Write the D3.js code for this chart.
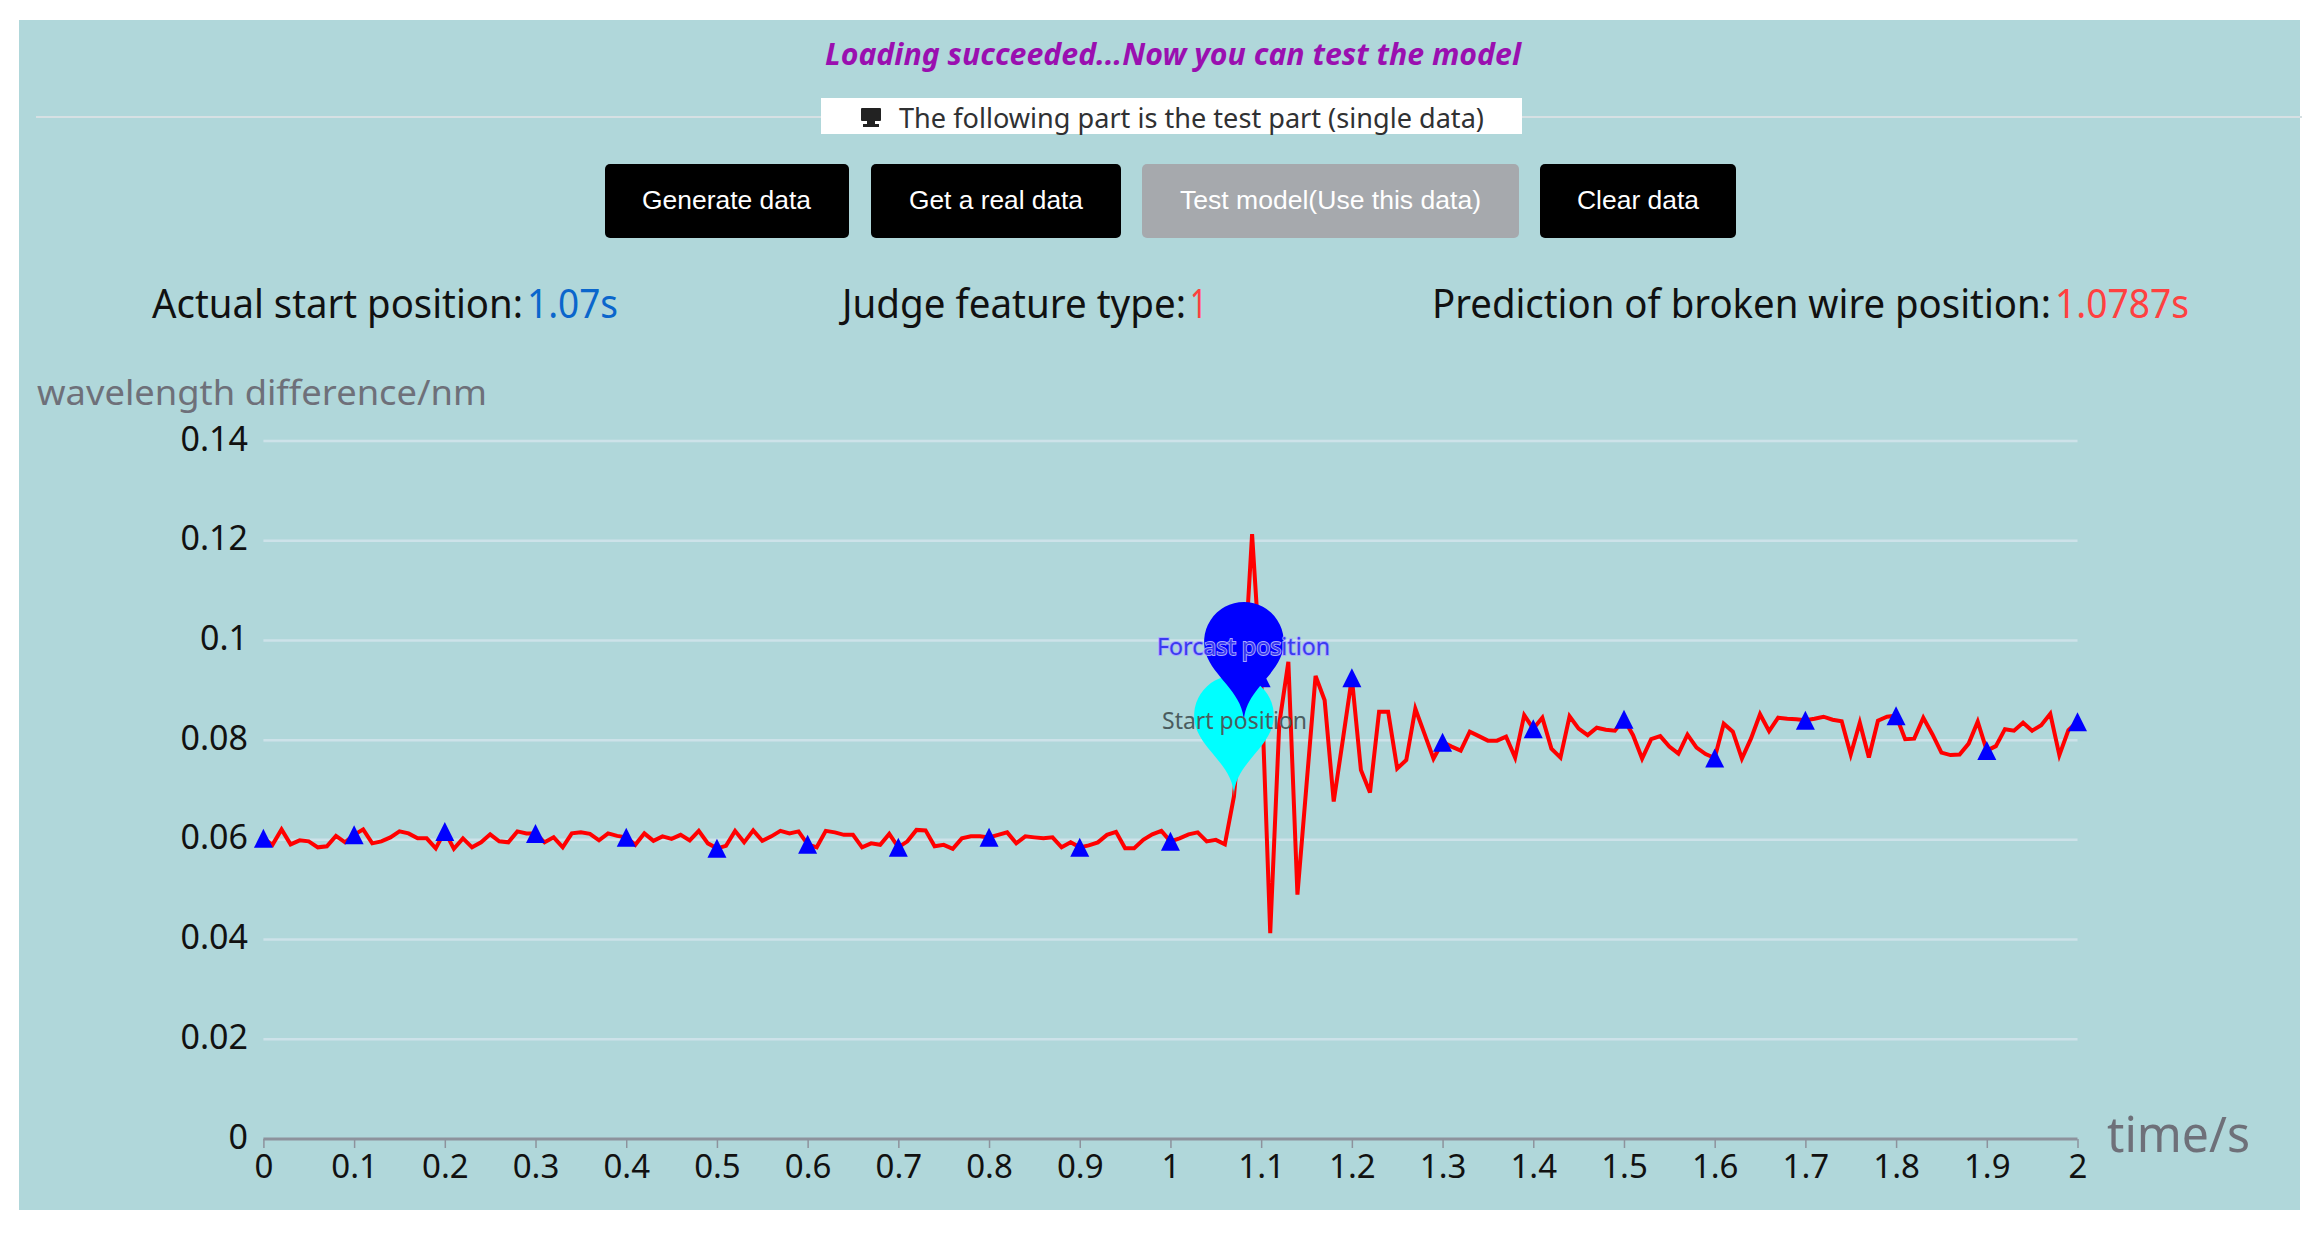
<!DOCTYPE html>
<html>
<head>
<meta charset="utf-8">
<script src="https://cdn.jsdelivr.net/npm/d3@7"></script>
<style>
html,body{margin:0;padding:0;background:#fff;overflow:hidden}
svg{display:block}
text{font-family:"Noto Sans",sans-serif}
.btn text{font-family:"Liberation Sans",Arial,sans-serif}
</style>
</head>
<body>
<svg id="chart" width="2319" height="1233"></svg>
<script>
const wavelength = [
.0603,.059,.0621,.0591,.0599,.0597,.0585,.0587,.0608,.0595,
.061,.0621,.0593,.0597,.0605,.0617,.0613,.0603,.0603,.0583,
.0617,.0582,.0603,.0585,.0595,.0611,.0597,.0595,.0617,.0613,
.0613,.0595,.0605,.0585,.0613,.0615,.0612,.0599,.0613,.0608,
.0605,.059,.0613,.0598,.0607,.0602,.061,.0599,.0618,.0593,
.0583,.0588,.0618,.0595,.0619,.0598,.0607,.0618,.0613,.0617,
.0591,.0585,.0618,.0615,.061,.061,.0585,.0593,.059,.0612,
.0585,.0597,.062,.0619,.0587,.059,.0582,.0603,.0607,.0607,
.0605,.061,.0615,.0593,.0607,.0605,.0603,.0605,.0585,.0595,
.0585,.0589,.0595,.061,.0616,.0583,.0583,.06,.0611,.0618,
.0597,.0603,.0611,.0615,.0597,.06,.0591,.0687,.09,.1213,
.0925,.0413,.0833,.0957,.049,.071,.0929,.088,.0677,.08,
.0925,.074,.0695,.0857,.0857,.0743,.076,.0863,.0813,.0763,
.0796,.0787,.0779,.0817,.0808,.0799,.0799,.0807,.0765,.085,
.0823,.0845,.0783,.0765,.0848,.0823,.081,.0825,.0821,.0819,
.0842,.081,.0763,.0802,.0808,.0787,.0773,.0811,.0785,.0772,
.0764,.0833,.0817,.0763,.0803,.0852,.0818,.0845,.0843,.0842,
.084,.0843,.0847,.0841,.0838,.0771,.0835,.0765,.0839,.0847,
.0849,.0802,.0803,.0845,.0812,.0775,.077,.0771,.0793,.0837,
.0779,.0788,.0822,.0819,.0835,.0819,.083,.0853,.077,.082,
.0837];
const times = wavelength.map((_, i) => i / 100);
const xTicks = [0,.1,.2,.3,.4,.5,.6,.7,.8,.9,1,1.1,1.2,1.3,1.4,1.5,1.6,1.7,1.8,1.9,2];
const yTicks = [0,.02,.04,.06,.08,.1,.12,.14];
const markEvery = 10;
const pinTimes = [1.07, 1.081];
const pinValues = [.0687, .0835];
const pinLabels = ["Start position", "Forcast position"];
const buttonLabels = ["Generate data","Get a real data","Test model(Use this data)","Clear data"];
const statLabels = ["Actual start position:","Judge feature type:","Prediction of broken wire position:"];
const statValues = ["1.07s","1","1.0787s"];

const svg = d3.select("#chart");
const x = d3.scaleLinear().domain([0,2]).range([263.4,2077.5]);
const y = d3.scaleLinear().domain([0,.14]).range([1139,441]);

const BG="#b0d7da", GRID="#cde2e9", AXIS="#8d929c", MUTED="#6e7079";

svg.append("rect").attr("x",19).attr("y",20).attr("width",2281).attr("height",1190).attr("fill",BG);

function label(parent, t, x0, x1, cy, size, fill, extra){
  const el = parent.append("text").text(t).attr("x",x0).attr("y",cy)
    .attr("dominant-baseline","central").attr("font-size",size).attr("fill",fill)
    .attr("textLength",x1-x0).attr("lengthAdjust","spacingAndGlyphs");
  if(extra) extra(el);
  return el;
}
label(svg,"Loading succeeded...Now you can test the model",825,1521,53,30,"#9a0fb0",e=>e.attr("font-style","italic").attr("font-weight",700));
svg.append("line").attr("x1",36).attr("x2",2302).attr("y1",117).attr("y2",117).attr("stroke","#d6e0e3").attr("stroke-width",2);
svg.append("rect").attr("x",821).attr("y",98).attr("width",701).attr("height",36).attr("fill","#fff");
const icon = svg.append("g").attr("fill","#222");
icon.append("rect").attr("x",861).attr("y",108).attr("width",20).attr("height",13).attr("rx",1);
icon.append("rect").attr("x",867).attr("y",121).attr("width",8).attr("height",3);
icon.append("rect").attr("x",863).attr("y",124).attr("width",16).attr("height",3);
label(svg,"The following part is the test part (single data)",899,1484,117,28,"#303133");

const btnX0=[605,871,1142,1540], btnX1=[849,1121,1519,1736];
const btnTx0=[642,909,1180,1577], btnTx1=[811,1083,1481,1699];
const btns = svg.selectAll("g.btn").data(buttonLabels).join("g").attr("class","btn");
btns.append("rect").attr("x",(d,i)=>btnX0[i]).attr("y",164).attr("width",(d,i)=>btnX1[i]-btnX0[i]).attr("height",74).attr("rx",5)
  .attr("fill",(d,i)=>i===2?"#a6a9ad":"#000");
btns.each(function(d,i){
  label(d3.select(this),d,btnTx0[i],btnTx1[i],200,26,"#fff");
});

const statX=[152,842,1432], statMid=[525,1188,2053], statEnd=[618,1207,2189], statCol=["#0a66cc","#ff4040","#ff4040"];
statLabels.forEach((t,i)=>{
  label(svg,t,statX[i],statMid[i]-2,302,40,"#111");
  label(svg,statValues[i],statMid[i]+2,statEnd[i],302,40,statCol[i]);
});

label(svg,"wavelength difference/nm",37,487,391,35,MUTED);
label(svg,"time/s",2107,2250,1133,49,MUTED);

const yAxis = d3.axisLeft(y).tickValues(yTicks).tickSize(0).tickPadding(0).tickFormat(d=>String(+d.toFixed(2)));
const gy = svg.append("g").attr("transform","translate(248,0)").call(yAxis);
gy.select(".domain").remove();
gy.selectAll("text").attr("font-size",34).attr("fill","#111").attr("dy",0).attr("dominant-baseline","central").attr("transform","translate(0,-4)");

svg.append("g").selectAll("line").data(yTicks.filter(d=>d>0)).join("line")
  .attr("x1",x(0)).attr("x2",x(2)).attr("y1",d=>y(d)).attr("y2",d=>y(d))
  .attr("stroke",GRID).attr("stroke-width",2.5);

const xAxis = d3.axisBottom(x).tickValues(xTicks).tickSize(9).tickPadding(0).tickFormat(d=>String(+d.toFixed(1)));
const gx = svg.append("g").attr("transform","translate(0,"+y(0)+")").call(xAxis);
gx.select(".domain").attr("stroke",AXIS).attr("stroke-width",3).attr("d","M"+x(0)+",0H"+x(2));
gx.selectAll(".tick line").attr("stroke",AXIS).attr("stroke-width",1.5);
gx.selectAll("text").attr("font-size",33).attr("fill","#111").attr("y",26).attr("dy",0).attr("dominant-baseline","central");

const line = d3.line().x((d,i)=>x(times[i])).y(d=>y(d));
svg.append("path").datum(wavelength).attr("d",line).attr("fill","none").attr("stroke","#ff0000").attr("stroke-width",4).attr("stroke-linejoin","miter");

const tri = 9.5;
svg.append("g").selectAll("path")
  .data(wavelength.map((v,i)=>({t:times[i],v,i})).filter(d=>d.i%markEvery===0))
  .join("path")
  .attr("d",`M0,${-tri}L${tri},${tri}L${-tri},${tri}Z`)
  .attr("transform",d=>`translate(${x(d.t)},${y(d.v)})`)
  .attr("fill","#0000ff");

function pinPath(px,py,r,h){
  const dy=r*r/(h-r), cy=py-h+r+dy, a=Math.asin(dy/r), dx=Math.cos(a)*r,
        tx=Math.sin(a), ty=Math.cos(a), c1=r*.6, c2=r*.7, p=d3.path();
  p.moveTo(px-dx,cy+dy);
  p.arc(px,cy,r,Math.PI-a,Math.PI*2+a);
  p.bezierCurveTo(px+dx-tx*c1,cy+dy+ty*c1,px,py-c2,px,py);
  p.bezierCurveTo(px,py-c2,px-dx+tx*c1,cy+dy+ty*c1,px-dx,cy+dy);
  p.closePath();
  return p.toString();
}
const pinCol=["#00ffff","#0000ff"];
pinTimes.forEach((t,i)=>{
  svg.append("path").attr("d",pinPath(x(t),y(pinValues[i]),39.8,137)).attr("fill",pinCol[i]);
});
label(svg,pinLabels[0],1162,1307,719,24,"#4a5c5e");
label(svg,pinLabels[1],1157,1330,645,24,"#3a3af0",e=>e.attr("stroke","#a8a8ff").attr("stroke-width",1.8).attr("paint-order","stroke"));
</script>
</body>
</html>
